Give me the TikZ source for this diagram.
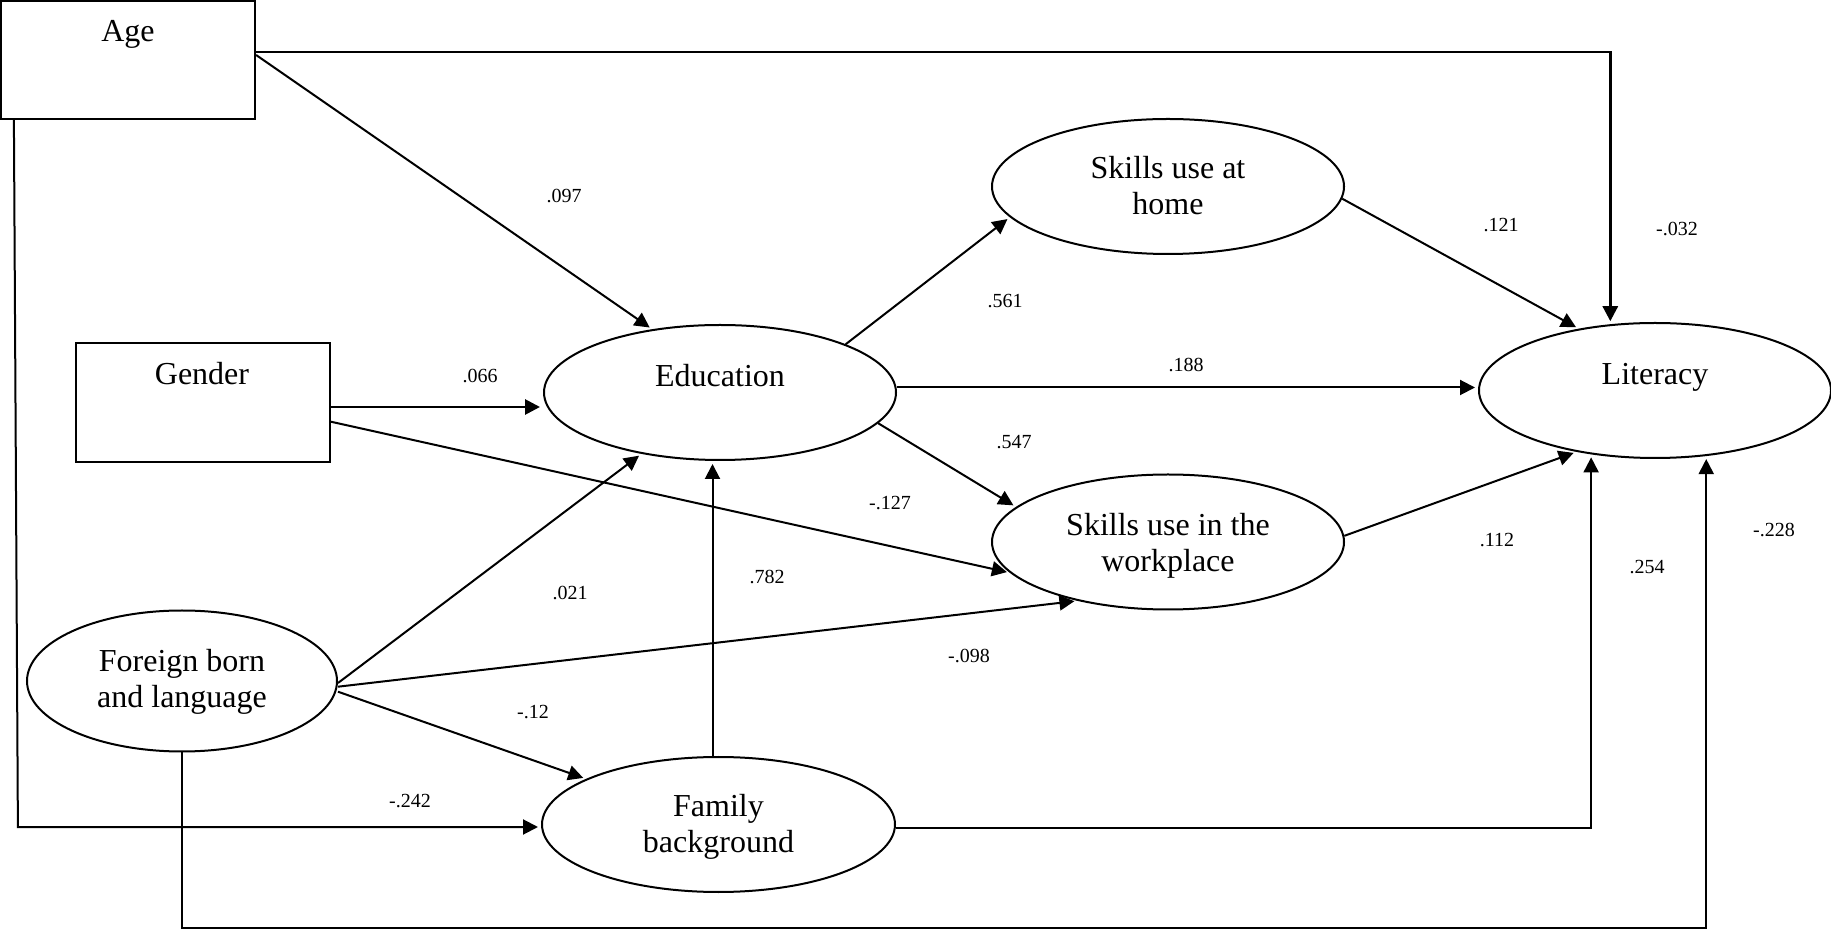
\documentclass[tikz,border=0pt]{standalone}
\usepackage{fontspec}
\setmainfont{Liberation Serif}
\usetikzlibrary{arrows.meta,calc,shapes.geometric}
\begin{document}
\begin{tikzpicture}[x=0.5pt,y=-0.5pt,
  box/.style={draw, line width=1.1pt, rectangle, inner sep=0pt},
  ell/.style={draw, line width=1pt, ellipse, inner sep=0pt},
  arr/.style={line width=1pt, -{Triangle[length=7.5pt,width=7.5pt]}, shorten >=1.5pt},
  thick arr/.style={arr, line width=1.4pt},
  txt/.style={font=\fontsize{16}{18}\selectfont, align=center, inner sep=0pt},
  lab/.style={font=\fontsize{10}{12}\selectfont, inner sep=0pt, text height=6.8pt, text depth=0pt}]
\useasboundingbox (0,0) rectangle (1831,929);

% boxes
\node[box, minimum width=127pt, minimum height=59pt] (age) at (128,60) {};
\node[txt, anchor=base] (agetext) at (128,41.7) {Age};
\node[box, minimum width=126.75pt, minimum height=59.5pt] (gender) at (203,402.5) {};
\node[txt, anchor=base] (gendertext) at (202,385) {Gender};

% ellipses
\node[ell, minimum width=176pt, minimum height=67.5pt] (edu) at (720,392.5) {};
\node[txt, anchor=base] (edutext) at (720,386.7) {Education};
\node[ell, minimum width=176pt, minimum height=67.5pt] (lit) at (1655,390.5) {};
\node[txt, anchor=base] (littext) at (1655,384.3) {Literacy};
\node[ell, minimum width=176pt, minimum height=67.5pt] (home) at (1168,186.5) {};
\node[txt] (hometext) at (1168,186) {Skills use at\\home};
\node[ell, minimum width=176pt, minimum height=67.5pt] (work) at (1168,542) {};
\node[txt] (worktext) at (1168,546) {Skills use in the\\workplace};
\node[ell, minimum width=155pt, minimum height=70.5pt] (foreign) at (182,681) {};
\node[txt] (foreigntext) at (182,681.7) {Foreign born\\and language};
\node[ell, minimum width=176.5pt, minimum height=67.5pt] (family) at (718.5,824.5) {};
\node[txt] (familytext) at (718.5,826.4) {Family\\background};

% connectors
\draw[thick arr] ([yshift=4pt]age.east) -| (lit.124.6);
\draw[arr] ([yshift=2.5pt]age.east) -- (edu.137.2);
\coordinate (agecorner) at ($(age.south west |- family.west)+(9pt,-1.25pt)$);
\draw[arr] ([xshift=7pt]age.south west) -- (agecorner) -- (agecorner -| family.west);

\coordinate (g1) at ([yshift=-2.25pt]gender.east);
\draw[thick arr] (g1) -- (g1 -| edu.west);
\draw[arr] ([yshift=-9.6pt]gender.east) -- (work.191.1);

\draw[arr] ([yshift=-1pt]foreign.east) -- (edu.218.8);
\draw[arr] ([yshift=-2.85pt]foreign.east) -- (work.213.2);
\draw[arr] ([yshift=-5.35pt]foreign.east) -- (family.161.6);
\coordinate (bottomy) at (0,928);
\coordinate (bot) at (lit.308.3 |- bottomy);
\draw[arr] (foreign.south) |- (bot) -- (lit.308.3);

\draw[arr] ([yshift=-1.75pt]family.east) -| (lit.225);
\coordinate (f1) at ([xshift=-3pt]family.north);
\draw[arr] (f1) -- (f1 |- edu.south);

\draw[arr] (edu.21.1) -- (home.191.8);
\coordinate (e1) at ([yshift=2.5pt]edu.east);
\draw[arr] (e1) -- (e1 -| lit.west);
\draw[arr] (edu.349.7) -- (work.167);

\draw[arr] (home.356.6) -- (lit.141.6);
\draw[arr] (work.2) -- (lit.218.7);

% path coefficients
\node[lab] (l097) at (564,196) {.097};
\node[lab] (l066) at (480,376) {.066};
\node[lab] (l032) at (1677,229) {-.032};
\node[lab] (l561) at (1005,301) {.561};
\node[lab] (l121) at (1501,225) {.121};
\node[lab] (l188) at (1186,365) {.188};
\node[lab] (l547) at (1014,442) {.547};
\node[lab] (l127) at (890,503) {-.127};
\node[lab] (l782) at (767,577) {.782};
\node[lab] (l021) at (570,593) {.021};
\node[lab] (l112) at (1497,540) {.112};
\node[lab] (l254) at (1647,567) {.254};
\node[lab] (l228) at (1774,530) {-.228};
\node[lab] (l098) at (969,656) {-.098};
\node[lab] (l12) at (533,712) {-.12};
\node[lab] (l242) at (410,801) {-.242};
\end{tikzpicture}
\end{document}
